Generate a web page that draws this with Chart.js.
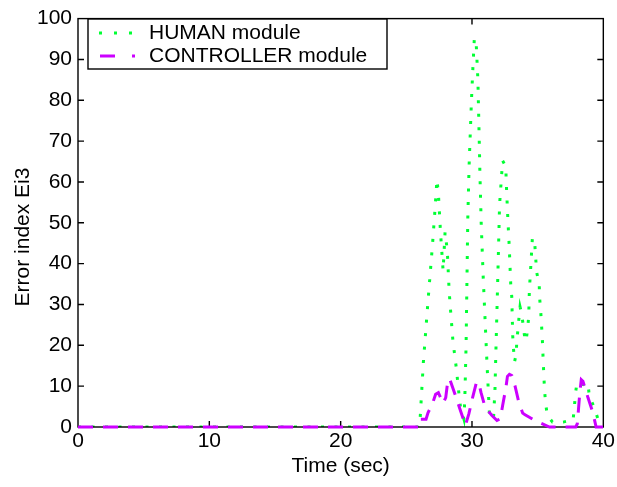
<!DOCTYPE html>
<html>
<head>
<meta charset="utf-8">
<script src="https://cdn.jsdelivr.net/npm/chart.js@4.4.1/dist/chart.umd.min.js"></script>
<style>
  html, body { margin: 0; padding: 0; background: #fff; }
  #wrap { width: 617px; height: 487px; }
</style>
</head>
<body>
<div id="wrap"><canvas id="chart" width="617" height="487"></canvas></div>
<script>
// values
const humanTime = [0, 25.95, 26.05, 26.3, 26.68, 27.0, 27.2, 27.33, 27.44, 27.6, 27.8, 27.95, 28.12, 28.25, 28.32,
  28.55, 28.8, 29.0, 29.12, 29.38, 29.45, 29.55, 29.68, 29.78, 29.96, 30.08, 30.18, 30.31, 30.45, 30.56,
  30.6, 30.7, 30.85, 31.0, 31.15, 31.35, 31.65, 31.75, 31.82, 31.9, 32.0, 32.1, 32.33, 32.58, 32.6, 32.73,
  32.83, 32.95, 33.03, 33.1, 33.16, 33.24, 33.36, 33.41, 33.58, 33.66, 33.79, 33.92, 34.04, 34.11, 34.24,
  34.32, 34.37, 34.49, 34.6, 34.79, 34.92, 35.12, 35.15, 35.23, 35.35, 35.43, 35.52, 35.6, 35.73, 36.13,
  36.94, 37.32, 37.69, 37.79, 37.87, 38.0, 38.12, 38.47, 38.83, 38.93, 39.3, 39.63, 40];
const humanErr = [0, 0, 2, 16, 32, 45, 54, 60.6, 57.3, 47.8, 38.3, 47.7, 43.2, 34, 30.6,
  21, 14.6, 8.3, 5, 2, 6.4, 20, 51, 64, 80, 88.8, 95.2, 94.6, 85, 69,
  62.6, 50, 37, 26, 15, 1.8, 2.8, 9.2, 18.6, 28.4, 41.2, 54.4, 65.2, 63.8, 60.6, 51,
  44.6, 35, 31.8, 22.4, 19.2, 16, 17.7, 20.8, 26.8, 29.4, 27.6, 24.4, 21.2, 21, 24,
  27.2, 33.6, 40, 46.4, 44.4, 38, 34.8, 31.6, 28.5, 22, 15.6, 9.3, 6, 2.9, 1.2,
  1.2, 1.5, 1.5, 4.6, 8, 11, 11, 10.4, 10.8, 7.6, 4.8, 1.6, 0.5];

const ctrlTime = [0, 25.95, 26.0, 26.5, 26.65, 26.98, 27.23, 27.44, 27.8, 28.0, 28.17, 28.3, 28.75, 29.08,
  29.5, 29.76, 30.06, 30.33, 30.5, 30.69, 31.0, 31.52, 31.9, 32.15, 32.33, 32.58, 32.7, 32.85, 33.03,
  33.28, 33.54, 33.86, 34.04, 34.79, 35.9, 37.9, 38.02, 38.2, 38.32, 38.45, 38.83, 39.2, 39.45, 40];
const ctrlErr = [0, 0, 1.9, 1.9, 3.5, 5.6, 8, 8.4, 5.8, 7.2, 11.6, 11.8, 7.6, 4.4,
  0.4, 3.2, 7.4, 10.8, 11, 8.4, 4.8, 2.8, 1.6, 2, 5.2, 9.6, 12.4, 12.9, 12.6,
  10, 6.4, 3.4, 3, 1.6, 0, 0, 0.8, 8, 11.6, 11.2, 7.2, 3.6, 0, 0];

const seriesNames = ['HUMAN module', 'CONTROLLER module'];
const xTitle = 'Time (sec)';
const yTitle = 'Error index Ei3';
const xTicks = [0, 10, 20, 30, 40];
const yTicks = [0, 10, 20, 30, 40, 50, 60, 70, 80, 90, 100];

const FONT = '"Liberation Sans", Arial, Helvetica, sans-serif';
const FSIZE = 21;
const GREEN = '#00ff33';
const MAGENTA = '#cc00ff';

const toPoints = (xs, ys) => xs.map((x, i) => ({ x: x, y: ys[i] }));

// matlab style box with ticks pointing inwards, drawn between the two lines
const axesBox = {
  id: 'axesBox',
  afterDatasetDraw(chart, args) {
    if (args.index !== 1) return;
    const ctx = chart.ctx;
    const a = chart.chartArea;
    const xs = chart.scales.x, ys = chart.scales.y;
    const tl = 6;
    ctx.save();
    ctx.strokeStyle = '#000';
    ctx.lineWidth = 1.4;
    ctx.strokeRect(a.left, a.top, a.right - a.left, a.bottom - a.top);
    ctx.beginPath();
    xTicks.slice(1, -1).forEach(v => {
      const px = xs.getPixelForValue(v);
      ctx.moveTo(px, a.bottom); ctx.lineTo(px, a.bottom - tl);
      ctx.moveTo(px, a.top); ctx.lineTo(px, a.top + tl);
    });
    yTicks.slice(1, -1).forEach(v => {
      const py = ys.getPixelForValue(v);
      ctx.moveTo(a.left, py); ctx.lineTo(a.left + tl, py);
      ctx.moveTo(a.right, py); ctx.lineTo(a.right - tl, py);
    });
    ctx.stroke();
    ctx.restore();
  }
};

// y axis title, sits a bit lower than the plot centre in the original
const yLabel = {
  id: 'yLabel',
  afterDraw(chart) {
    const ctx = chart.ctx;
    ctx.save();
    ctx.translate(23, 237);
    ctx.rotate(-Math.PI / 2);
    ctx.fillStyle = '#000';
    ctx.font = FSIZE + 'px ' + FONT;
    ctx.textAlign = 'center';
    ctx.textBaseline = 'middle';
    ctx.fillText(yTitle, 0, 0);
    ctx.restore();
  }
};

const legendBox = {
  id: 'legendBox',
  afterDatasetsDraw(chart) {
    const ctx = chart.ctx;
    const x0 = 88, y0 = 19, w = 299, h = 50;
    ctx.save();
    ctx.fillStyle = '#fff';
    ctx.fillRect(x0, y0, w, h);
    ctx.strokeStyle = '#000';
    ctx.lineWidth = 1.4;
    ctx.strokeRect(x0, y0, w, h);
    // HUMAN sample
    ctx.lineWidth = 3;
    ctx.strokeStyle = GREEN;
    ctx.setLineDash([3, 12]);
    ctx.beginPath(); ctx.moveTo(99, 33); ctx.lineTo(133, 33); ctx.stroke();
    // CONTROLLER sample
    ctx.strokeStyle = MAGENTA;
    ctx.setLineDash([15, 17]);
    ctx.beginPath(); ctx.moveTo(100, 56); ctx.lineTo(135, 56); ctx.stroke();
    ctx.setLineDash([]);
    ctx.fillStyle = '#000';
    ctx.font = FSIZE + 'px ' + FONT;
    ctx.textBaseline = 'middle';
    ctx.textAlign = 'left';
    ctx.fillText(seriesNames[0], 149, 33);
    ctx.fillText(seriesNames[1], 149, 56);
    ctx.restore();
  }
};

new Chart(document.getElementById('chart'), {
  type: 'line',
  data: {
    datasets: [
      {
        label: seriesNames[1],
        data: toPoints(ctrlTime, ctrlErr),
        borderColor: MAGENTA,
        borderWidth: 3,
        borderDash: [15, 10],
        pointRadius: 0,
        tension: 0,
        fill: false,
        clip: 4
      },
      {
        label: seriesNames[0],
        data: toPoints(humanTime, humanErr),
        borderColor: GREEN,
        borderWidth: 3,
        borderDash: [3, 10.5],
        pointRadius: 0,
        tension: 0,
        fill: false
      }
    ]
  },
  options: {
    responsive: false,
    animation: false,
    layout: { padding: { top: 10, right: 10, left: 0, bottom: 0 } },
    plugins: { legend: { display: false }, tooltip: { enabled: false } },
    scales: {
      x: {
        type: 'linear',
        min: 0, max: 40,
        afterFit: s => { s.height = 60; },
        afterBuildTicks: s => { s.ticks = xTicks.map(v => ({ value: v })); },
        grid: { display: false, drawTicks: false },
        border: { display: false },
        ticks: { color: '#000', padding: 2, font: { family: FONT, size: FSIZE } },
        title: { display: true, text: xTitle, color: '#000', padding: { top: 0, bottom: 8 }, font: { family: FONT, size: FSIZE } }
      },
      y: {
        min: 0, max: 100,
        afterFit: s => { s.width = 78; },
        afterBuildTicks: s => { s.ticks = yTicks.map(v => ({ value: v })); },
        grid: { display: false, drawTicks: false },
        border: { display: false },
        ticks: { color: '#000', padding: 6, font: { family: FONT, size: FSIZE } }
      }
    }
  },
  plugins: [axesBox, legendBox, yLabel]
});
</script>
</body>
</html>
